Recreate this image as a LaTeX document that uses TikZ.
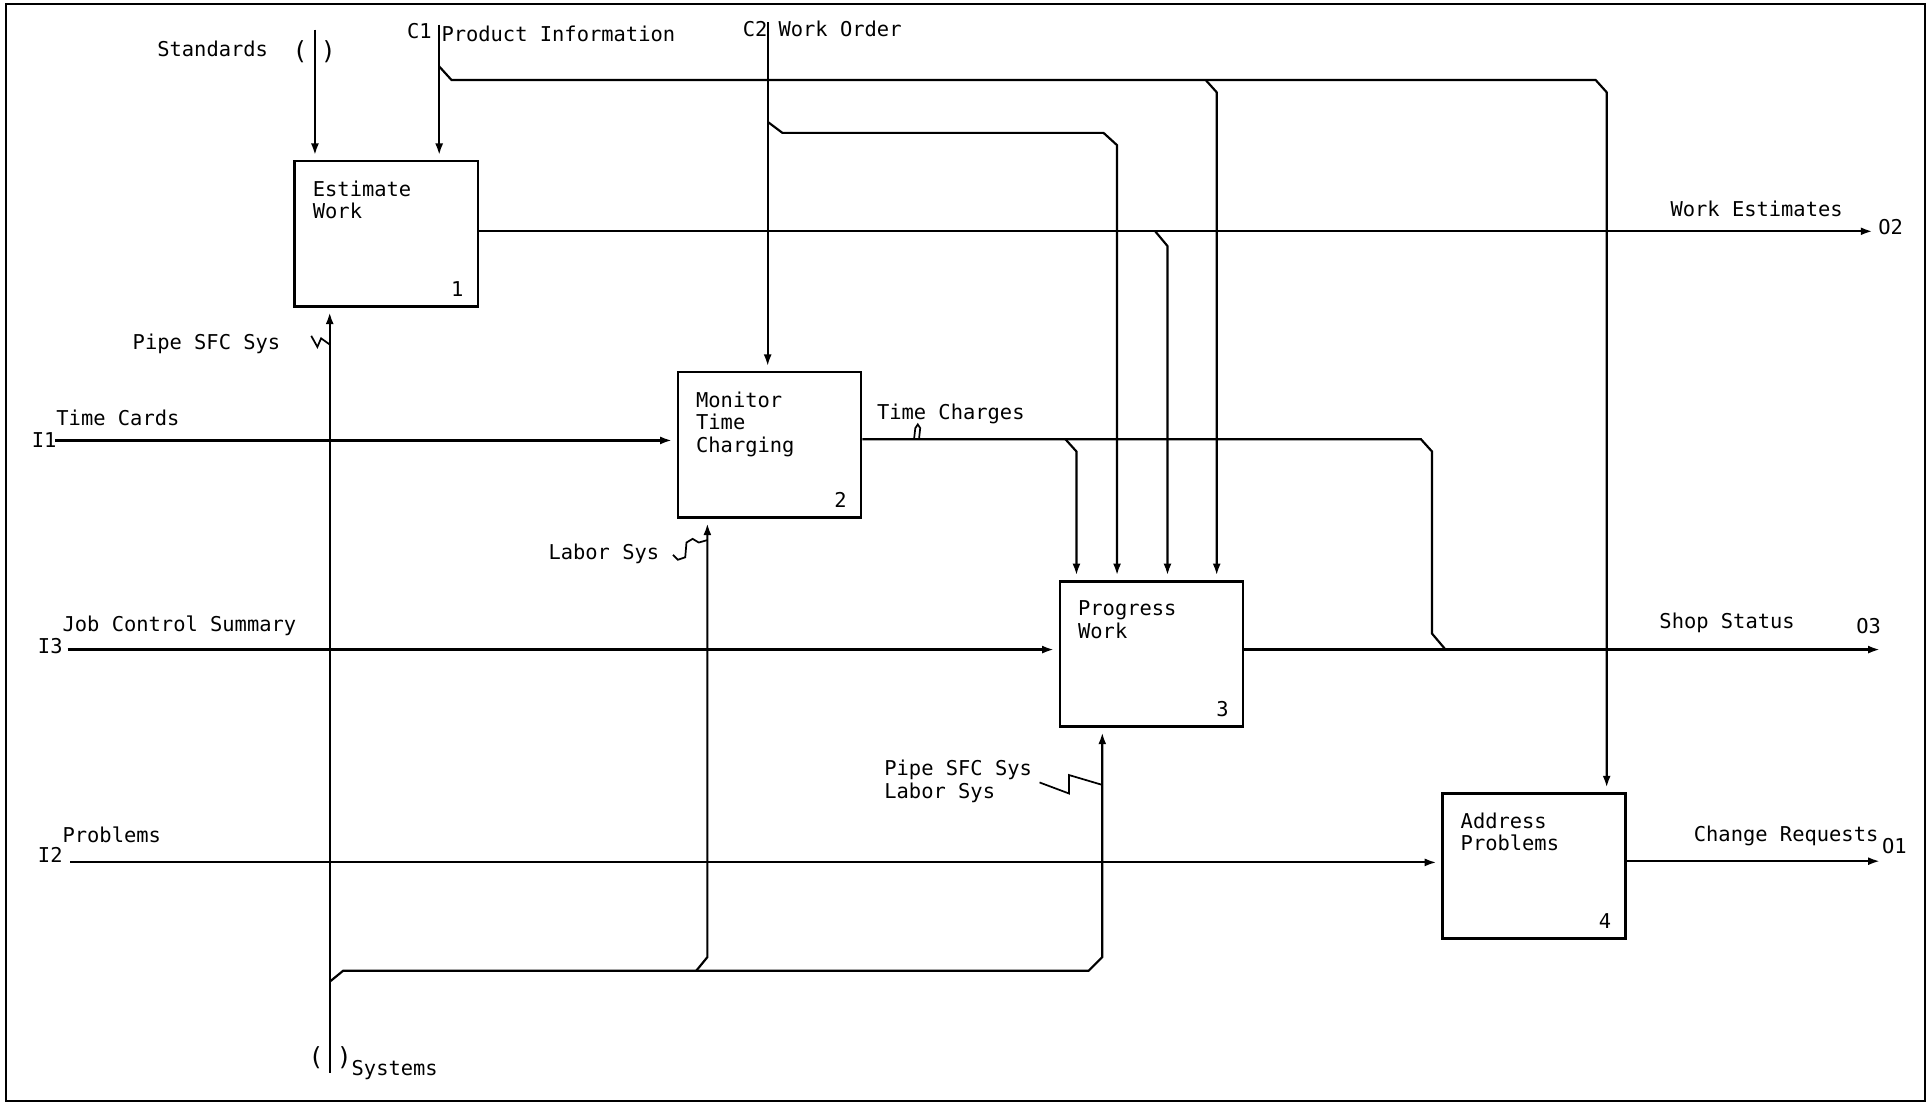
\documentclass[tikz,border=0pt]{standalone}
\usepackage{fontspec}
\setmonofont{DejaVu Sans Mono}
\usetikzlibrary{arrows.meta, positioning, calc}

\begin{document}
\begin{tikzpicture}[
	x=0.02cm, y=-0.02cm,
	>={Latex[length=1.9mm, width=1.3mm]},
	line width=1pt,
	activity/.style={rectangle, draw, line width=1.2pt, minimum width=2.98cm, minimum height=2.36cm, inner sep=0pt},
	tag/.style={font=\ttfamily\fontsize{9.45}{10.4}\selectfont, inner sep=0pt, anchor=base west, align=left},
	num/.style={tag, anchor=base east},
	tunnel/.style={font=\ttfamily\fontsize{11.5}{12}\selectfont, inner sep=0pt},
	into/.style={->, shorten >=2.2pt},
	squig/.style={line width=0.8pt}
	]
	\useasboundingbox (0,0) rectangle (1568,897);
	
	% Frame
	\draw (5,3) rectangle (1565,895);
	
	% Activities
	\node[activity] (A1) at (314,190) {};
	\node[tag, anchor=north west] at ($(A1.north west)+(15,16)$) {Estimate\\Work};
	\node[num] at ($(A1.south east)+(-12,-9)$) {1};
	
	\node[activity] (A2) at (625.5,361.5) {};
	\node[tag, anchor=north west] at ($(A2.north west)+(15,16)$) {Monitor\\Time\\Charging};
	\node[num] at ($(A2.south east)+(-12,-9)$) {2};
	
	\node[activity] (A3) at (936,531.5) {};
	\node[tag, anchor=north west] at ($(A3.north west)+(15,16)$) {Progress\\Work};
	\node[num] at ($(A3.south east)+(-12,-9)$) {3};
	
	\node[activity] (A4) at (1247,704) {};
	\node[tag, anchor=north west] at ($(A4.north west)+(15,16)$) {Address\\Problems};
	\node[num] at ($(A4.south east)+(-12,-9)$) {4};
	
	% Controls
	\coordinate (std) at (256,24);
	\coordinate (c1) at (357,20);
	\coordinate (c2) at (624,18);
	\draw[into] (std) -- (std |- A1.north);
	\draw[into] (c1) -- (c1 |- A1.north);
	\draw[into] (c2) -- (c2 |- A2.north);
	\node[tunnel] at (244,42) {(};
	\node[tunnel] at (267,42) {)};
	\node[tag] at (127,46) {Standards};
	\node[tag] at (330,31) {C1};
	\node[tag] at (358,34) {Product Information};
	\node[tag] at (603,30) {C2};
	\node[tag] at (632,30) {Work Order};
	
	% Product Information to 3 and 4
	\coordinate (c1a) at (357,54);
	\coordinate (c1b) at (980,65);
	\draw[into] (c1a) -- ++(10,11) -- (1297,65) -- ++(9,10) -- (1306,75 |- A4.north);
	\draw[into] (c1b) -- ++(9,10) -- (989,75 |- A3.north);
	
	% Work Order to 3
	\coordinate (c2a) at (624,99);
	\draw[into] (c2a) -- ++(12,9) -- (897,108) -- ++(11,10) -- (908,118 |- A3.north);
	
	% Work Estimates
	\coordinate (o2) at (1522,188);
	\coordinate (o2a) at (939,188);
	\draw[->] (A1.east |- o2) -- (o2);
	\draw[into] (o2a) -- ++(10,12) -- (949,200 |- A3.north);
	\node[tag] at (1357,176) {Work Estimates};
	\node[tag] at (1526,191) {O2};
	
	% Inputs
	\coordinate (i1) at (45,358);
	\coordinate (i3) at (55,528);
	\coordinate (i2) at (57,701);
	\draw[into] (i1) -- (i1 -| A2.west);
	\draw[into] (i3) -- (i3 -| A3.west);
	\draw[into] (i2) -- (i2 -| A4.west);
	\node[tag] at (45,346) {Time Cards};
	\node[tag] at (25,364) {I1};
	\node[tag] at (50,513) {Job Control Summary};
	\node[tag] at (30,531) {I3};
	\node[tag] at (50,685) {Problems};
	\node[tag] at (30,701) {I2};
	
	% Time Charges
	\coordinate (tca) at (866,357);
	\coordinate (tcb) at (1155,357);
	\draw (A2.east |- tcb) -- (tcb) -- ++(9,10) -- (1164,515) -- (1175,528);
	\draw[into] (tca) -- ++(9,10) -- (875,367 |- A3.north);
	\draw[squig] (743,357) -- (744,348) -- (746,345) -- (748,348) -- (747,357);
	\node[tag] at (712,341) {Time Charges};
	
	% Outputs
	\coordinate (o3) at (1528,528);
	\coordinate (o1) at (1528,700);
	\draw[->] (A3.east |- o3) -- (o3);
	\draw[->] (A4.east |- o1) -- (o1);
	\node[tag] at (1348,511) {Shop Status};
	\node[tag] at (1508,515) {O3};
	\node[tag] at (1376,684) {Change Requests};
	\node[tag] at (1529,694) {O1};
	
	% Mechanisms
	\coordinate (sys) at (268,872);
	\coordinate (sysa) at (268,798);
	\coordinate (sysb) at (566,789);
	\draw[into] (sys) -- (sys |- A1.south);
	\draw[into] (sysa) -- ++(11,-9) -- (885,789) -- ++(11,-11) -- (896,778 |- A3.south);
	\draw[into] (sysb) -- ++(9,-11) -- (575,778 |- A2.south);
	\node[tunnel] at (257,860) {(};
	\node[tunnel] at (280,860) {)};
	\node[tag] at (285,874) {Systems};
	
	% Mechanism labels
	\draw[squig] (253,273) -- (258,282) -- (261,275) -- (268,280);
	\node[tag] at (107,284) {Pipe SFC Sys};
	\draw[squig] (547,451) -- (551,455) -- (557,453) -- (558,441) -- (563,438) -- (568,441) -- (575,439);
	\node[tag] at (445,455) {Labor Sys};
	\draw[squig] (845,636) -- (869,645) -- (869,630) -- (896,638);
	\node[tag, anchor=north west] at (718,617) {Pipe SFC Sys\\Labor Sys};
	
\end{tikzpicture}
\end{document}
